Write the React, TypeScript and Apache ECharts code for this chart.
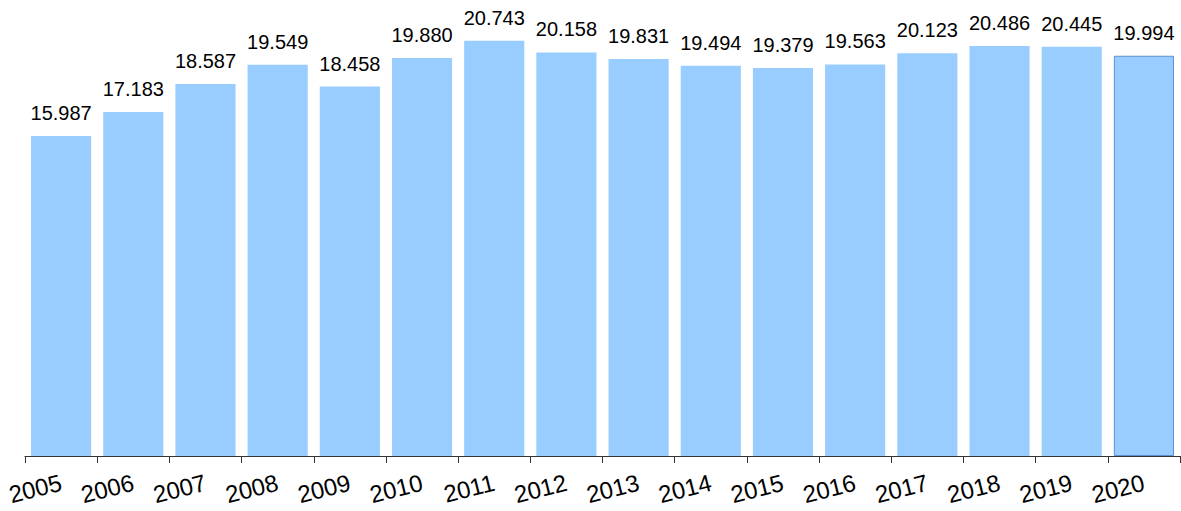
import React, { useEffect, useRef } from "react";
import * as echarts from "echarts";

const years = ["2005","2006","2007","2008","2009","2010","2011","2012","2013","2014","2015","2016","2017","2018","2019","2020"];
const values = [15.987,17.183,18.587,19.549,18.458,19.880,20.743,20.158,19.831,19.494,19.379,19.563,20.123,20.486,20.445,19.994];
const labels = ["15.987","17.183","18.587","19.549","18.458","19.880","20.743","20.158","19.831","19.494","19.379","19.563","20.123","20.486","20.445","19.994"];

export default function App() {
  const ref = useRef<HTMLDivElement>(null);
  useEffect(() => {
    const chart = echarts.init(ref.current!, null, { renderer: "svg" });
    const font = "Arial, 'Liberation Sans', sans-serif";
    chart.setOption({
      animation: false,
      grid: { left: 25, right: 1, top: 15.6, bottom: 55, containLabel: false },
      xAxis: {
        type: "category",
        data: years,
        axisLine: { lineStyle: { color: "#333", width: 1 } },
        axisTick: { show: true, length: 7, lineStyle: { color: "#333" } },
        axisLabel: {
          rotate: 14,
          fontSize: 24,
          color: "#000",
          fontFamily: font,
          margin: 26,
          interval: 0,
        },
      },
      yAxis: {
        type: "value",
        min: 0,
        max: 22,
        show: false,
        splitLine: { show: false },
      },
      series: [
        {
          type: "bar",
          barCategoryGap: "16.7%",
          data: values.map((v, i) =>
            i === values.length - 1
              ? { value: v, itemStyle: { color: "#99ccff", borderColor: "#5f8fcf", borderWidth: 1 } }
              : { value: v }
          ),
          itemStyle: { color: "#99ccff" },
          label: {
            show: true,
            position: "top",
            distance: 13,
            fontSize: 20,
            color: "#000",
            fontFamily: font,
            formatter: (p: any) => labels[p.dataIndex],
          },
        },
      ],
    });
    return () => chart.dispose();
  }, []);
  return <div ref={ref} style={{ width: 1181, height: 511, position: "absolute", left: 0, top: 0 }} />;
}
